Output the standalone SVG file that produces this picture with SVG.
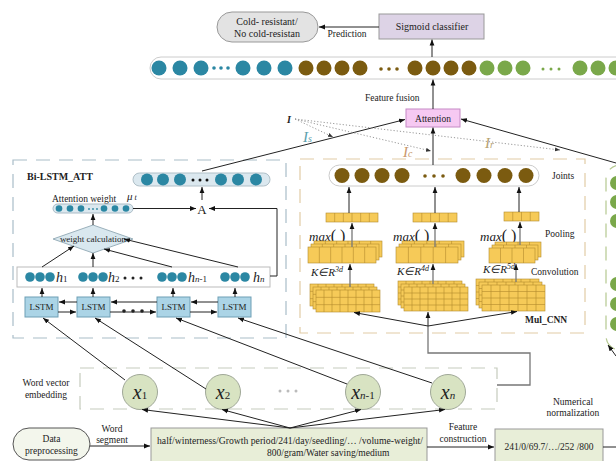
<svg xmlns="http://www.w3.org/2000/svg" xmlns:xlink="http://www.w3.org/1999/xlink" width="616" height="461" viewBox="0 0 616 461">
<style>
svg{font-size:9.5px}
.t{font-family:"Liberation Serif","Times New Roman",serif;fill:#222}
.b{font-weight:bold}
.it{font-style:italic}
.ln{stroke:#222;stroke-width:1;fill:none}
.gl{stroke:#777;stroke-width:1.3;fill:none}
.dt{stroke:#999;stroke-width:1;stroke-dasharray:1.2 2;fill:none}
.tl{fill:#2b87a3}.br{fill:#7b5b10}.gr{fill:#7aa84a}
.cell{fill:#f6ca58;stroke:#b38a2e;stroke-width:0.6}
.grid{stroke:#b38a2e;stroke-width:0.6;fill:none}
.dash{fill:none;stroke-width:1.2;stroke-dasharray:14 9}
.lstm{fill:#abd4e6;stroke:#6f9fb5;stroke-width:1}
.xn{fill:#d8e3c2;stroke:#a0a898;stroke-width:1}
.box{fill:#e8eed8;stroke:#999;stroke-width:1}
</style>
<defs>
<marker id="ah" viewBox="0 0 10 10" refX="10" refY="5" markerWidth="6" markerHeight="6" orient="auto" markerUnits="userSpaceOnUse"><path d="M0,1 L10,5 L0,9 z" fill="#111"/></marker>
<marker id="ahs" viewBox="0 0 10 10" refX="10" refY="5" markerWidth="5" markerHeight="5" orient="auto" markerUnits="userSpaceOnUse"><path d="M0,1 L10,5 L0,9 z" fill="#333"/></marker>
<g id="pool6"><rect class="cell" width="68" height="16"/><path class="grid" d="M11.33,0V16M22.67,0V16M34,0V16M45.33,0V16M56.67,0V16"/></g>
<g id="pool5"><rect class="cell" width="62" height="16"/><path class="grid" d="M12.4,0V16M24.8,0V16M37.2,0V16M49.6,0V16"/></g>
<g id="pool4"><rect class="cell" width="46" height="15"/><path class="grid" d="M11.5,0V15M23,0V15M34.5,0V15"/></g>
<g id="conv1"><rect class="cell" width="64" height="22"/><path class="grid" d="M8,0V22M16,0V22M24,0V22M32,0V22M40,0V22M48,0V22M56,0V22M0,7.33H64M0,14.67H64"/></g>
<g id="conv2"><rect class="cell" width="64" height="24"/><path class="grid" d="M8,0V24M16,0V24M24,0V24M32,0V24M40,0V24M48,0V24M56,0V24M0,6H64M0,12H64M0,18H64"/></g>
<g id="conv3"><rect class="cell" width="63" height="26"/><path class="grid" d="M9,0V26M18,0V26M27,0V26M36,0V26M45,0V26M54,0V26M0,6.5H63M0,13H63M0,19.5H63"/></g>
<g id="vec6"><rect class="cell" width="52" height="9"/><path class="grid" d="M8.67,0V9M17.33,0V9M26,0V9M34.67,0V9M43.33,0V9"/></g>
<g id="vec5"><rect class="cell" width="44" height="9"/><path class="grid" d="M8.8,0V9M17.6,0V9M26.4,0V9M35.2,0V9"/></g>
<g id="vec4"><rect class="cell" width="35" height="9"/><path class="grid" d="M8.75,0V9M17.5,0V9M26.25,0V9"/></g>
</defs>

<!-- region boxes -->
<g id="bilstm-region">
<rect class="dash" x="13" y="160" width="273" height="178" stroke="#a9bdc8"/>
<text class="t b" x="27" y="180" font-size="10">Bi-LSTM_ATT</text>
</g>
<g id="cnn-region">
<rect class="dash" x="300" y="159" width="285" height="174" stroke="#e2cca6"/>
<text class="t b" x="525" y="323">Mul_CNN</text>
<text class="t" x="552" y="179">Joints</text>
<text class="t" x="545" y="237">Pooling</text>
<text class="t" x="531" y="275">Convolution</text>
</g>
<g id="embed-region">
<rect class="dash" x="80" y="368" width="417" height="41" stroke="#c5cbbd"/>
<text class="t" x="46" y="386" text-anchor="middle">Word vector</text>
<text class="t" x="46" y="398" text-anchor="middle">embedding</text>
<circle cx="280" cy="391" r="1.5" fill="#bbb"/><circle cx="288" cy="391" r="1.5" fill="#bbb"/><circle cx="296" cy="391" r="1.5" fill="#bbb"/>
</g>
<g id="green-region">
<rect class="dash" x="606" y="165" width="40" height="185" rx="14" stroke="#b5c890"/>
<circle class="gr" cx="617" cy="183" r="7"/><circle class="gr" cx="617" cy="202" r="7"/><circle class="gr" cx="617" cy="221" r="7"/>
<circle class="gr" cx="617" cy="284" r="7"/><circle class="gr" cx="617" cy="304" r="7"/><circle class="gr" cx="617" cy="324" r="7"/>
</g>

<!-- top nodes -->
<g id="output">
<rect x="217" y="12" width="101" height="30" rx="15" fill="#e3e3e3" stroke="#999"/>
<text class="t" x="267" y="24.5" text-anchor="middle" font-size="10">Cold- resistant/</text>
<text class="t" x="267" y="37" text-anchor="middle" font-size="10">No cold-resistan</text>
</g>
<g id="sigmoid">
<rect x="379" y="14" width="105" height="25" fill="#ddd3e6" stroke="#999"/>
<text class="t" x="432" y="30" text-anchor="middle" font-size="10">Sigmoid classifier</text>
</g>
<g id="fused-vector">
<rect x="150" y="57" width="480" height="22" rx="11" fill="#fff" stroke="#ccc"/>
<circle class="tl" cx="159" cy="68" r="7.5"/><circle class="tl" cx="180" cy="68" r="7.5"/><circle class="tl" cx="201" cy="68" r="7.5"/>
<circle class="tl" cx="214" cy="68" r="1.8"/><circle class="tl" cx="221" cy="68" r="1.8"/><circle class="tl" cx="228" cy="68" r="1.8"/>
<circle class="tl" cx="243" cy="68" r="7.5"/><circle class="tl" cx="264" cy="68" r="7.5"/><circle class="tl" cx="285" cy="68" r="7.5"/>
<circle class="br" cx="306" cy="68" r="7.5"/><circle class="br" cx="324" cy="68" r="7.5"/><circle class="br" cx="342" cy="68" r="7.5"/><circle class="br" cx="360" cy="68" r="7.5"/>
<circle class="br" cx="381" cy="69" r="1.8"/><circle class="br" cx="389" cy="69" r="1.8"/><circle class="br" cx="397" cy="69" r="1.8"/>
<circle class="br" cx="415" cy="68" r="7.5"/><circle class="br" cx="433" cy="68" r="7.5"/><circle class="br" cx="451" cy="68" r="7.5"/><circle class="br" cx="469" cy="68" r="7.5"/>
<circle class="gr" cx="487" cy="68" r="7.5"/><circle class="gr" cx="505" cy="68" r="7.5"/><circle class="gr" cx="523" cy="68" r="7.5"/>
<circle class="gr" cx="543" cy="69" r="1.5"/><circle class="gr" cx="551" cy="69" r="1.5"/><circle class="gr" cx="559" cy="69" r="1.5"/>
<circle class="gr" cx="580" cy="68" r="7.5"/><circle class="gr" cx="598" cy="68" r="7.5"/><circle class="gr" cx="616" cy="68" r="7.5"/>
</g>
<g id="attention">
<rect x="406" y="109" width="54" height="18" fill="#f6c9f2" stroke="#c58ac5"/>
<text class="t" x="433" y="121.5" text-anchor="middle">Attention</text>
</g>

<!-- Bi-LSTM nodes -->
<g id="lstm-out-vector">
<rect x="133" y="173" width="137" height="13" rx="6.5" fill="#dbe8ef" stroke="#b0c0c8"/>
<circle class="tl" cx="147" cy="179.5" r="6"/><circle class="tl" cx="163" cy="179.5" r="6"/><circle class="tl" cx="180" cy="179.5" r="6"/>
<circle cx="193" cy="180" r="1.5" fill="#111"/><circle cx="200" cy="180" r="1.5" fill="#111"/><circle cx="207" cy="180" r="1.5" fill="#111"/>
<circle class="tl" cx="221" cy="179.5" r="6"/><circle class="tl" cx="238" cy="179.5" r="6"/><circle class="tl" cx="256" cy="179.5" r="6"/>
</g>
<g id="att-weight">
<text class="t" x="52" y="202">Attention weight</text>
<text class="t it" x="127" y="200" font-size="11">μ<tspan font-size="8" dx="2">t</tspan></text>
<rect x="53" y="204" width="80" height="9" rx="4.5" fill="#dbe8ef" stroke="#aabbc5"/>
<circle class="tl" cx="59" cy="208.5" r="3.3"/><circle class="tl" cx="70" cy="208.5" r="3.3"/><circle class="tl" cx="81" cy="208.5" r="3.3"/>
<circle class="tl" cx="89" cy="209" r="0.9"/><circle class="tl" cx="93" cy="209" r="0.9"/><circle class="tl" cx="97" cy="209" r="0.9"/>
<circle class="tl" cx="104" cy="208.5" r="3.3"/><circle class="tl" cx="115" cy="208.5" r="3.3"/><circle class="tl" cx="126" cy="208.5" r="3.3"/>
</g>
<g id="A-node">
<text class="t" x="202" y="213.5" text-anchor="middle" font-size="13">A</text>
</g>
<g id="weight-calc">
<polygon points="93,225 133,239 93,253 53,239" fill="#d9e8ef" stroke="#9ab0bb"/>
<text class="t" x="93" y="242" text-anchor="middle" font-size="9">weight calculation</text>
</g>
<g id="h-row">
<rect x="17" y="267" width="253" height="20" fill="#fff" stroke="#bbb"/>
<circle class="tl" cx="30" cy="277" r="4.8"/><circle class="tl" cx="40" cy="277" r="4.8"/><circle class="tl" cx="50" cy="277" r="4.8"/>
<circle class="tl" cx="83" cy="277" r="4.8"/><circle class="tl" cx="93" cy="277" r="4.8"/><circle class="tl" cx="103" cy="277" r="4.8"/>
<circle class="tl" cx="162" cy="277" r="4.8"/><circle class="tl" cx="172" cy="277" r="4.8"/><circle class="tl" cx="182" cy="277" r="4.8"/>
<circle class="tl" cx="225" cy="277" r="4.8"/><circle class="tl" cx="235" cy="277" r="4.8"/><circle class="tl" cx="245" cy="277" r="4.8"/>
<text class="t it" x="56" y="282" font-size="14">h<tspan font-size="9" font-style="normal">1</tspan></text>
<text class="t it" x="108" y="282" font-size="14">h<tspan font-size="9" font-style="normal">2</tspan></text>
<circle cx="125" cy="278" r="1.5" fill="#222"/><circle cx="133" cy="278" r="1.5" fill="#222"/><circle cx="141" cy="278" r="1.5" fill="#222"/>
<text class="t it" x="188" y="282" font-size="14">h<tspan font-size="9">n<tspan font-style="normal">-1</tspan></tspan></text>
<text class="t it" x="253" y="282" font-size="14">h<tspan font-size="9">n</tspan></text>
</g>
<g id="lstm1"><rect class="lstm" x="25" y="297" width="33" height="20"/><text class="t" x="41.5" y="310" text-anchor="middle" font-size="9">LSTM</text></g>
<g id="lstm2"><rect class="lstm" x="77" y="297" width="33" height="20"/><text class="t" x="93.5" y="310" text-anchor="middle" font-size="9">LSTM</text></g>
<g id="lstm3"><rect class="lstm" x="157" y="297" width="33" height="20"/><text class="t" x="173.5" y="310" text-anchor="middle" font-size="9">LSTM</text></g>
<g id="lstm4"><rect class="lstm" x="218" y="297" width="33" height="20"/><text class="t" x="234.5" y="310" text-anchor="middle" font-size="9">LSTM</text></g>

<!-- embeddings -->
<g id="x1"><circle class="xn" cx="140" cy="392" r="17.5"/><text class="t it" x="140" y="399" text-anchor="middle" font-size="20">x<tspan font-size="11" font-style="normal">1</tspan></text></g>
<g id="x2"><circle class="xn" cx="223" cy="392" r="17.5"/><text class="t it" x="223" y="399" text-anchor="middle" font-size="20">x<tspan font-size="11" font-style="normal">2</tspan></text></g>
<g id="xn-1"><circle class="xn" cx="363" cy="392" r="17.5"/><text class="t it" x="363" y="399" text-anchor="middle" font-size="20">x<tspan font-size="11">n<tspan font-style="normal">-1</tspan></tspan></text></g>
<g id="xn"><circle class="xn" cx="448" cy="392" r="17.5"/><text class="t it" x="448" y="399" text-anchor="middle" font-size="20">x<tspan font-size="11">n</tspan></text></g>

<!-- bottom row -->
<g id="data-pre">
<rect x="13" y="428" width="77" height="32" rx="16" fill="#f3f6ec" stroke="#555"/>
<text class="t" x="51.5" y="442" text-anchor="middle">Data</text>
<text class="t" x="51.5" y="454" text-anchor="middle">preprocessing</text>
</g>
<g id="segmented-text">
<rect class="box" x="151" y="428" width="276" height="36"/>
<text class="t" x="157" y="444" textLength="266" lengthAdjust="spacingAndGlyphs">half/winterness/Growth period/241/day/seedling/… /volume-weight/</text>
<text class="t" x="267" y="456">800/gram/Water saving/medium</text>
</g>
<g id="numeric">
<rect class="box" x="495" y="429" width="108" height="35"/>
<text class="t" x="549" y="450" text-anchor="middle">241/0/69.7/…/252 /800</text>
</g>
<g id="bottom-labels">
<text class="t" x="112" y="432" text-anchor="middle">Word</text>
<text class="t" x="112" y="443" text-anchor="middle">segment</text>
<text class="t" x="463" y="430" text-anchor="middle">Feature</text>
<text class="t" x="463" y="442" text-anchor="middle">construction</text>
<text class="t" x="573" y="405" text-anchor="middle">Numerical</text>
<text class="t" x="573" y="416" text-anchor="middle">normalization</text>
</g>

<!-- CNN nodes -->
<g id="joints">
<rect x="329" y="165" width="210" height="21" rx="10.5" fill="#fff" stroke="#ccc"/>
<circle class="br" cx="342" cy="175.5" r="7.5"/><circle class="br" cx="362" cy="175.5" r="7.5"/><circle class="br" cx="382" cy="175.5" r="7.5"/><circle class="br" cx="402" cy="175.5" r="7.5"/>
<circle class="br" cx="425" cy="176" r="1.8"/><circle class="br" cx="434" cy="176" r="1.8"/><circle class="br" cx="443" cy="176" r="1.8"/>
<circle class="br" cx="463" cy="175.5" r="7.5"/><circle class="br" cx="484" cy="175.5" r="7.5"/><circle class="br" cx="505" cy="175.5" r="7.5"/><circle class="br" cx="526" cy="175.5" r="7.5"/>
</g>
<g id="cnn-branch1">
<use xlink:href="#vec6" x="326" y="213"/>
<text class="t" x="309" y="241" font-size="13"><tspan font-style="italic">max</tspan><tspan font-size="16">( )</tspan></text>
<use xlink:href="#pool6" x="314" y="241"/><use xlink:href="#pool6" x="311" y="244"/><use xlink:href="#pool6" x="308" y="247"/>
<text class="t it" x="311" y="276" font-size="11">K∈R<tspan font-size="8" dy="-4">3d</tspan></text>
<use xlink:href="#conv1" x="310" y="284"/><use xlink:href="#conv1" x="313" y="287"/><use xlink:href="#conv1" x="316" y="290"/>
</g>
<g id="cnn-branch2">
<use xlink:href="#vec5" x="413" y="213"/>
<text class="t" x="393" y="241" font-size="13"><tspan font-style="italic">max</tspan><tspan font-size="16">( )</tspan></text>
<use xlink:href="#pool5" x="402" y="241"/><use xlink:href="#pool5" x="399" y="244"/><use xlink:href="#pool5" x="396" y="247"/>
<text class="t it" x="397" y="275" font-size="11">K∈R<tspan font-size="8" dy="-4">4d</tspan></text>
<use xlink:href="#conv2" x="398" y="281"/><use xlink:href="#conv2" x="401" y="284"/><use xlink:href="#conv2" x="404" y="287"/>
</g>
<g id="cnn-branch3">
<use xlink:href="#vec4" x="504" y="212"/>
<text class="t" x="480" y="241" font-size="13"><tspan font-style="italic">max</tspan><tspan font-size="16">( )</tspan></text>
<use xlink:href="#pool4" x="495" y="242"/><use xlink:href="#pool4" x="492" y="245"/><use xlink:href="#pool4" x="489" y="248"/>
<text class="t it" x="483" y="273" font-size="11">K∈R<tspan font-size="8" dy="-4">5d</tspan></text>
<use xlink:href="#conv3" x="476" y="279"/><use xlink:href="#conv3" x="479" y="282"/><use xlink:href="#conv3" x="482" y="285"/>
</g>

<!-- stream labels -->
<g id="stream-labels">
<text class="t it b" x="287" y="123" font-size="10">I</text>
<text class="t it" x="303" y="142" font-size="15" style="fill:#5aa0ad">I<tspan font-size="10">s</tspan></text>
<text class="t it" x="403" y="157" font-size="15" style="fill:#c9966b">I<tspan font-size="10">c</tspan></text>
<text class="t it" x="485" y="148" font-size="15" style="fill:#b5a070">I<tspan font-size="10">r</tspan></text>
</g>

<!-- connectors -->
<g id="connectors">
<line class="ln" x1="379" y1="27" x2="319" y2="27" marker-end="url(#ah)"/>
<text class="t" x="347" y="37" text-anchor="middle">Prediction</text>
<line class="ln" x1="432" y1="57" x2="432" y2="39.5" marker-end="url(#ah)"/>
<line class="ln" x1="433" y1="109" x2="433" y2="79.5" marker-end="url(#ah)"/>
<text class="t" x="365" y="101">Feature fusion</text>
<line class="ln" x1="202" y1="171" x2="405" y2="119.5" marker-end="url(#ah)"/>
<line class="ln" x1="433" y1="165" x2="433" y2="127.5" marker-end="url(#ah)"/>
<line class="ln" x1="616" y1="163" x2="461" y2="119" marker-end="url(#ah)"/>
<line class="dt" x1="295" y1="119" x2="333" y2="137" marker-end="url(#ahs)"/>
<line class="dt" x1="295" y1="119" x2="431" y2="151" marker-end="url(#ahs)"/>
<line class="dt" x1="295" y1="119" x2="560" y2="150" marker-end="url(#ahs)"/>
<!-- bi-lstm internal -->
<line class="ln" x1="202" y1="200" x2="202" y2="187" marker-end="url(#ah)"/>
<line class="ln" x1="133" y1="208.5" x2="196" y2="208.5" marker-end="url(#ah)"/>
<path class="ln" d="M270,276 H277 V208.5 H209" marker-end="url(#ah)"/>
<line class="ln" x1="93" y1="225" x2="93" y2="214" marker-end="url(#ah)"/>
<line class="ln" x1="42" y1="267" x2="74" y2="246" marker-end="url(#ah)"/>
<line class="ln" x1="93" y1="267" x2="93" y2="253" marker-end="url(#ah)"/>
<line class="ln" x1="172" y1="267" x2="104" y2="249" marker-end="url(#ah)"/>
<line class="ln" x1="238" y1="267" x2="124" y2="239" marker-end="url(#ah)"/>
<line class="ln" x1="42" y1="297" x2="42" y2="288" marker-end="url(#ah)"/>
<line class="ln" x1="93" y1="297" x2="93" y2="288" marker-end="url(#ah)"/>
<line class="ln" x1="173" y1="297" x2="173" y2="288" marker-end="url(#ah)"/>
<line class="ln" x1="235" y1="297" x2="235" y2="288" marker-end="url(#ah)"/>
<line class="ln" x1="77" y1="302" x2="59" y2="302" marker-end="url(#ah)"/>
<line class="ln" x1="157" y1="302" x2="111" y2="302" marker-end="url(#ah)"/>
<line class="ln" x1="218" y1="302" x2="191" y2="302" marker-end="url(#ah)"/>
<line class="ln" x1="58" y1="312" x2="76" y2="312" marker-end="url(#ah)"/>
<line class="ln" x1="110" y1="312" x2="156" y2="312" marker-end="url(#ah)"/>
<line class="ln" x1="190" y1="312" x2="217" y2="312" marker-end="url(#ah)"/>
<circle cx="124" cy="311" r="1.8" fill="#222"/><circle cx="133" cy="311" r="1.8" fill="#222"/><circle cx="142" cy="311" r="1.8" fill="#222"/>
<!-- embeddings to lstm -->
<line class="ln" x1="125" y1="380" x2="43" y2="318" marker-end="url(#ah)"/>
<line class="ln" x1="206" y1="389" x2="95" y2="318" marker-end="url(#ah)"/>
<line class="ln" x1="347" y1="384" x2="176" y2="318" marker-end="url(#ah)"/>
<line class="ln" x1="432" y1="383" x2="238" y2="318" marker-end="url(#ah)"/>
<!-- text to embeddings -->
<line class="ln" x1="290" y1="428" x2="142" y2="409.5" marker-end="url(#ah)"/>
<line class="ln" x1="290" y1="428" x2="222" y2="409.5" marker-end="url(#ah)"/>
<line class="ln" x1="290" y1="428" x2="361" y2="409.5" marker-end="url(#ah)"/>
<line class="ln" x1="290" y1="428" x2="445" y2="409.5" marker-end="url(#ah)"/>
<!-- bottom flow -->
<line class="ln" x1="90" y1="446" x2="150" y2="446" marker-end="url(#ah)"/>
<line class="ln" x1="427" y1="447" x2="494" y2="447" marker-end="url(#ah)"/>
<line class="ln" x1="603" y1="447" x2="616" y2="447"/>
<line class="ln" x1="616" y1="356" x2="608" y2="345" marker-end="url(#ah)"/>
<!-- embeddings to CNN -->
<path class="gl" d="M497,385 H530 V353 H428 V326" stroke="#555"/>
<line class="ln" x1="428" y1="326" x2="354" y2="312.5" marker-end="url(#ah)"/>
<line class="ln" x1="428" y1="326" x2="428" y2="312" marker-end="url(#ah)"/>
<line class="ln" x1="428" y1="326" x2="517" y2="311.5" marker-end="url(#ah)"/>
<!-- CNN internal -->
<line class="gl" x1="350" y1="287" x2="350" y2="264" marker-end="url(#ah)"/>
<line class="gl" x1="433" y1="284" x2="433" y2="264" marker-end="url(#ah)"/>
<line class="gl" x1="516" y1="282" x2="516" y2="264" marker-end="url(#ah)"/>
<line class="gl" x1="352" y1="247" x2="352" y2="223" marker-end="url(#ah)"/>
<line class="gl" x1="435" y1="247" x2="435" y2="223" marker-end="url(#ah)"/>
<line class="gl" x1="520" y1="245" x2="520" y2="222" marker-end="url(#ah)"/>
<line class="ln" x1="349" y1="213" x2="349" y2="187" marker-end="url(#ah)"/>
<line class="ln" x1="435" y1="213" x2="435" y2="187" marker-end="url(#ah)"/>
<line class="ln" x1="519" y1="212" x2="519" y2="187" marker-end="url(#ah)"/>
</g>
</svg>
